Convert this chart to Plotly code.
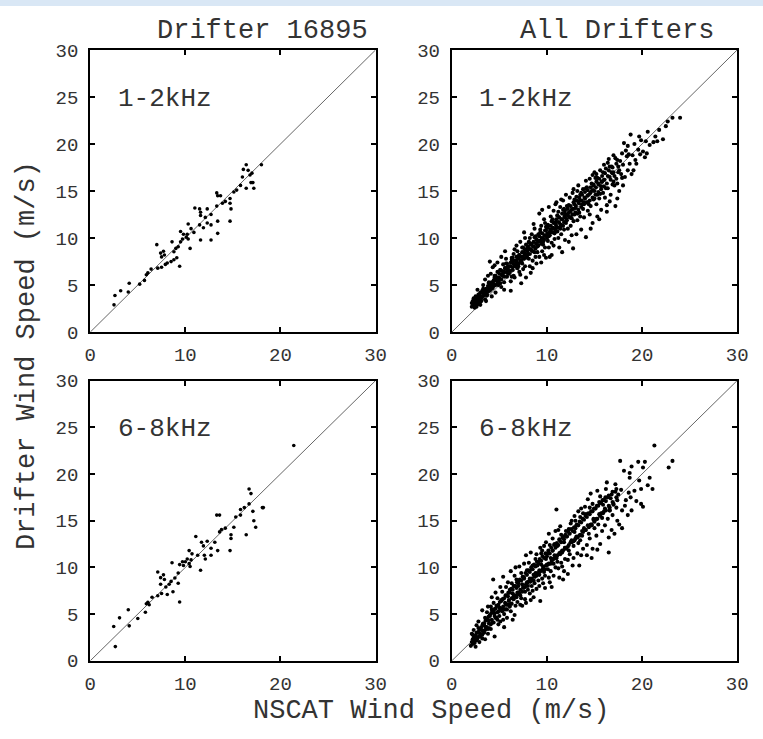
import plotly.graph_objects as go

# ---------------- data ----------------
x_ticks = [0, 10, 20, 30]
y_ticks = [0, 5, 10, 15, 20, 25, 30]
col_titles = ["Drifter 16895", "All Drifters"]
band_labels = ["1-2kHz", "6-8kHz"]

# Drifter 16895, 1-2 kHz
d1_x = [2.5, 2.6, 3.2, 4.0, 4.1, 5.2, 5.7, 5.9, 6.06, 6.4, 7.1, 7.5, 7.9, 8.1, 8.5, 8.8, 9.4, 9.1,
        7.0, 7.4, 7.5, 7.8, 7.7, 8.6, 8.8, 9.0, 9.25, 9.5, 9.7, 9.5, 9.8, 10.1, 10.3, 10.2, 10.3, 10.6,
        10.5, 10.9, 11.0, 11.5, 11.6, 11.6, 12.1, 11.5, 11.9, 11.6, 12.3, 12.3, 12.7, 12.7, 12.7, 13.3,
        13.3, 13.4, 13.7, 13.4, 13.4, 13.9, 14.2, 14.7, 14.7, 14.8, 14.7, 15.1, 15.4, 15.8, 16.0, 16.1,
        16.4, 16.6, 16.8, 17.0, 16.9, 17.1, 16.4, 17.2, 18.0]
d1_y = [2.9, 3.9, 4.4, 4.26, 5.2, 5.1, 5.5, 6.1, 6.3, 6.7, 6.8, 6.9, 7.2, 7.35, 7.5, 7.7, 7.0, 7.9,
        9.3, 8.4, 8.0, 8.2, 8.6, 9.6, 8.55, 8.9, 9.07, 9.6, 9.9, 10.7, 10.4, 10.1, 9.9, 10.4, 11.5, 11.0,
        8.9, 10.6, 13.2, 13.1, 12.75, 12.4, 12.2, 11.4, 11.1, 9.8, 13.1, 11.6, 9.8, 12.5, 11.4, 13.4,
        14.8, 14.5, 14.5, 11.8, 10.5, 13.7, 13.9, 14.2, 13.7, 13.1, 11.8, 14.9, 15.1, 15.6, 16.5, 17.3,
        17.8, 17.2, 16.7, 16.9, 15.9, 15.9, 15.3, 15.3, 17.8]

# Drifter 16895, 6-8 kHz
d2_x = [21.4, 2.64, 2.47, 3.08, 4.0, 4.1, 5.0, 5.8, 5.9, 6.06, 6.2, 6.5, 7.1, 7.5, 8.1, 8.7, 9.4, 7.1,
        7.4, 7.4, 7.7, 7.8, 7.95, 8.3, 8.5, 8.6, 8.9, 9.25, 9.25, 9.4, 9.7, 9.8, 10.0, 10.2, 10.4, 10.4,
        10.5, 10.7, 10.6, 11.1, 11.3, 11.6, 11.7, 11.9, 12.0, 12.1, 12.3, 12.7, 12.7, 13.1, 13.3, 13.6,
        13.4, 13.6, 13.8, 14.2, 14.8, 14.8, 14.7, 15.1, 15.3, 15.8, 16.2, 16.4, 16.7, 16.7, 16.9, 17.1,
        17.2, 17.4, 18.1, 18.2, 15.8]
d2_y = [23.05, 1.52, 3.67, 4.6, 5.47, 3.74, 4.53, 5.2, 6.1, 6.26, 6.0, 6.8, 6.96, 7.2, 7.1, 7.4, 6.3, 9.5,
        8.9, 8.2, 9.2, 8.7, 7.9, 8.2, 8.5, 10.5, 8.86, 8.3, 9.4, 10.3, 10.6, 10.2, 10.6, 10.9, 11.8, 10.4,
        10.1, 11.45, 10.8, 13.3, 11.3, 9.7, 12.7, 12.3, 11.3, 10.9, 12.8, 12.05, 11.3, 12.7, 15.6, 15.6,
        11.8, 13.8, 14.05, 14.2, 13.5, 13.1, 11.8, 14.3, 15.4, 15.6, 16.4, 13.5, 16.8, 18.4, 17.9, 16.0,
        15.0, 14.3, 16.4, 16.4, 16.2]

# All drifters, 1-2 kHz (scattered points)
a1_x = [2.1, 2.2, 2.3, 2.2, 2.4, 2.5, 2.6, 2.3, 2.7, 2.8, 2.5, 2.9, 3.0, 2.4, 2.6, 2.1, 2.8, 3.1, 3.0, 2.7,
        3.2, 3.4, 3.5, 3.6, 3.3, 3.8, 3.9, 3.7, 3.5, 3.9, 3.2, 3.6, 3.8,
        4.0, 4.2, 4.1, 4.4, 4.5, 4.3, 4.6, 4.7, 4.8, 4.9, 4.0, 4.5, 4.2, 4.8, 4.6,
        5.0, 5.1, 5.2, 5.3, 5.4, 5.5, 5.6, 5.7, 5.8, 5.9, 5.2, 5.5, 5.4, 5.8, 5.1, 5.6,
        6.0, 6.1, 6.2, 6.3, 6.4, 6.5, 6.6, 6.7, 6.8, 6.9, 6.2, 6.4, 6.6, 6.1, 6.8, 6.3, 6.9, 6.5,
        7.0, 7.1, 7.2, 7.3, 7.4, 7.5, 7.6, 7.7, 7.8, 7.9, 7.2, 7.5, 7.8, 7.1, 7.4, 7.6, 7.9, 7.3, 7.7,
        8.0, 8.1, 8.2, 8.3, 8.4, 8.5, 8.6, 8.7, 8.8, 8.9, 8.2, 8.5, 8.7, 8.1, 8.4, 8.6, 8.9, 8.3, 8.8, 8.0,
        9.0, 9.1, 9.2, 9.3, 9.4, 9.5, 9.6, 9.7, 9.8, 9.9, 9.2, 9.5, 9.4, 9.7, 9.1, 9.8, 9.3, 9.6, 9.9, 9.0,
        10.0, 10.1, 10.2, 10.3, 10.4, 10.5, 10.6, 10.7, 10.8, 10.9, 10.2, 10.5, 10.8, 10.3, 10.6, 10.1, 10.9, 10.4, 10.7, 10.0,
        11.0, 11.1, 11.2, 11.3, 11.4, 11.5, 11.6, 11.7, 11.8, 11.9, 11.3, 11.6, 11.0, 11.4, 11.8, 11.2, 11.5, 11.7, 11.9, 11.1,
        12.0, 12.1, 12.2, 12.3, 12.4, 12.5, 12.6, 12.7, 12.8, 12.9, 12.3, 12.75, 12.0, 12.5, 12.8, 12.2, 12.6, 12.9,
        13.0, 13.1, 13.2, 13.3, 13.4, 13.5, 13.6, 13.7, 13.8, 13.9, 13.3, 13.6, 13.1, 13.9, 13.5, 13.2,
        14.0, 14.1, 14.2, 14.3, 14.4, 14.5, 14.6, 14.7, 14.8, 14.9, 14.1, 14.5, 14.8, 14.3, 14.9, 14.6,
        15.0, 15.1, 15.2, 15.3, 15.4, 15.5, 15.6, 15.7, 15.8, 15.9, 15.0, 15.5, 15.3, 15.7, 15.2,
        16.0, 16.1, 16.2, 16.3, 16.4, 16.5, 16.6, 16.7, 16.8, 16.9, 16.3, 16.6, 16.0, 16.9, 16.4,
        17.0, 17.1, 17.2, 17.3, 17.4, 17.5, 17.6, 17.7, 17.8, 17.9, 17.2, 17.6, 17.0, 17.4, 17.9,
        18.0, 18.1, 18.2, 18.4, 18.5, 18.6, 18.8, 18.9, 18.3, 18.7, 18.5, 18.0,
        19.0, 19.2, 19.4, 19.6, 19.8, 19.9, 19.3, 19.7, 19.1,
        20.1, 20.4, 20.6, 20.3, 20.8, 20.5,
        21.2, 21.6, 21.8, 21.4,
        22.2, 22.7, 23.2, 24.0, 22.5]
a1_y = [2.7, 3.0, 2.8, 3.3, 3.1, 2.9, 3.4, 3.6, 3.0, 3.2, 3.8, 3.6, 2.9, 2.6, 2.7, 3.1, 4.0, 3.3, 4.2, 4.5,
        3.8, 4.1, 3.5, 4.6, 5.0, 4.3, 5.2, 3.9, 5.6, 4.8, 4.4, 3.3, 6.0,
        4.5, 5.3, 6.2, 4.9, 5.8, 6.9, 4.2, 5.5, 6.4, 5.0, 7.5, 7.1, 3.8, 7.4, 6.0,
        5.7, 6.6, 4.8, 6.0, 7.2, 5.3, 6.8, 7.8, 5.9, 6.5, 8.0, 4.5, 6.3, 7.3, 5.2, 8.6,
        6.2, 7.0, 5.4, 7.7, 6.6, 8.3, 5.8, 7.2, 9.2, 6.8, 4.4, 7.9, 8.8, 6.5, 7.6, 5.9, 8.0, 6.0,
        7.0, 8.2, 6.1, 7.6, 9.0, 6.7, 8.5, 10.0, 5.8, 7.9, 9.6, 8.0, 9.3, 6.4, 7.3, 10.6, 8.8, 5.2, 7.0,
        8.3, 9.5, 7.0, 8.8, 10.4, 7.6, 9.1, 11.0, 8.0, 9.8, 10.0, 6.8, 8.5, 7.8, 9.4, 11.5, 7.3, 6.3, 10.2, 9.0,
        9.2, 10.4, 8.0, 9.7, 11.3, 8.6, 10.0, 12.0, 9.0, 10.8, 12.6, 13.0, 7.4, 8.2, 9.6, 11.6, 10.9, 9.3, 7.9, 8.5,
        10.2, 11.4, 9.0, 10.6, 12.3, 9.5, 11.0, 12.9, 9.9, 11.7, 13.3, 8.2, 10.5, 8.0, 12.0, 9.7, 13.6, 10.9, 9.2, 11.1,
        11.2, 12.4, 10.0, 11.6, 13.3, 10.4, 12.0, 14.0, 10.9, 12.6, 9.0, 8.5, 13.8, 11.0, 13.1, 12.8, 14.1, 11.3, 9.8, 10.7,
        12.1, 13.4, 11.0, 12.7, 14.3, 11.3, 13.0, 14.8, 11.8, 13.6, 9.6, 8.9, 14.6, 12.2, 15.2, 12.4, 10.3, 12.5,
        13.2, 14.4, 11.9, 15.6, 12.7, 14.0, 10.9, 13.6, 15.2, 12.2, 13.9, 14.8, 10.4, 13.8, 12.3, 15.0,
        14.2, 10.1, 15.4, 12.9, 14.6, 16.3, 13.4, 15.0, 11.6, 14.1, 16.1, 12.5, 16.7, 13.8, 15.6, 11.0,
        15.0, 16.4, 13.6, 12.3, 15.8, 14.2, 17.2, 13.0, 16.0, 14.8, 17.0, 12.0, 14.6, 15.5, 16.8,
        16.2, 14.3, 17.4, 13.5, 15.3, 18.4, 16.5, 14.6, 17.6, 15.7, 12.8, 13.9, 17.8, 16.9, 18.0,
        17.0, 15.6, 18.5, 16.3, 14.2, 17.6, 15.0, 18.2, 16.8, 19.0, 13.4, 17.2, 18.8, 15.8, 16.4,
        17.8, 20.1, 16.5, 18.7, 17.2, 18.9, 21.0, 16.8, 19.3, 17.9, 19.8, 15.6,
        18.8, 20.0, 17.9, 19.4, 18.9, 20.4, 18.3, 20.8, 17.2,
        19.2, 20.3, 21.3, 18.6, 19.9, 19.0,
        20.2, 20.3, 21.5, 20.8,
        20.5, 22.4, 22.8, 22.8, 21.9]

# All drifters, 1-2 kHz (dense core of the cloud)
a1c_x = [2.3, 2.5, 2.6, 2.8, 2.9, 3.1, 3.2, 3.4, 3.5, 3.7, 3.8, 4.0, 4.1, 4.3, 4.4, 4.6, 4.7, 4.9, 5.0, 5.2,
         5.3, 5.5, 5.6, 5.8, 5.9, 6.1, 6.2, 6.4, 6.5, 6.7, 6.8, 7.0, 7.1, 7.3, 7.4, 7.6, 7.7, 7.9, 8.0, 8.2,
         8.3, 8.5, 8.6, 8.8, 8.9, 9.1, 9.2, 9.4, 9.5, 9.7, 9.8, 10.0, 10.1, 10.3, 10.4, 10.6, 10.7, 10.9, 11.0, 11.2,
         11.3, 11.5, 11.6, 11.8, 11.9, 12.1, 12.2, 12.4, 12.5, 12.7, 12.8, 13.0, 13.1, 13.3, 13.4, 13.6, 13.7, 13.9, 14.0, 14.2,
         14.3, 14.5, 14.6, 14.8, 14.9, 15.1, 15.2, 15.4, 15.5, 15.7, 15.8, 16.0, 16.1, 16.3, 16.5, 16.7, 16.9, 17.1, 17.3, 17.5,
         2.4, 2.7, 3.0, 3.3, 3.6, 3.9, 4.2, 4.5, 4.8, 5.1, 5.4, 5.7, 6.0, 6.3, 6.6, 6.9, 7.2, 7.5, 7.8, 8.1,
         8.4, 8.7, 9.0, 9.3, 9.6, 9.9, 10.2, 10.5, 10.8, 11.1, 11.4, 11.7, 12.0, 12.3, 12.6, 12.9, 13.2, 13.5, 13.8, 14.1,
         14.4, 14.7, 15.0, 15.3, 15.6, 15.9, 16.2, 16.6, 17.0, 17.4,
         2.35, 2.55, 2.75, 2.95, 3.15, 3.45, 3.75, 4.05, 4.35, 4.65, 4.95, 5.25, 5.55, 5.85, 6.15, 6.45, 6.75, 7.05, 7.35, 7.65,
         7.95, 8.25, 8.55, 8.85, 9.15, 9.45, 9.75, 10.05, 10.35, 10.65, 10.95, 11.25, 11.55, 11.85, 12.15, 12.45, 12.75, 13.05, 13.35, 13.65,
         13.95, 14.25, 14.55, 14.85, 15.15, 15.45, 15.75, 16.05, 16.4, 16.8]
a1c_y = [3.2, 3.0, 3.5, 3.3, 3.9, 3.6, 4.2, 3.9, 4.5, 4.0, 4.9, 4.4, 5.1, 4.7, 5.5, 5.0, 5.8, 5.4, 6.2, 5.6,
         6.5, 5.9, 6.8, 6.3, 7.0, 6.4, 7.4, 6.9, 7.6, 7.0, 8.0, 7.3, 8.2, 7.6, 8.5, 7.8, 8.8, 8.1, 9.1, 8.3,
         9.3, 8.6, 9.6, 8.9, 9.9, 9.2, 10.2, 9.4, 10.5, 9.8, 10.8, 10.0, 11.1, 10.3, 11.3, 10.6, 11.6, 10.9, 12.0, 11.1,
         12.2, 11.4, 12.6, 11.7, 12.9, 11.9, 13.1, 12.2, 13.4, 12.5, 13.8, 12.7, 14.0, 13.0, 14.3, 13.3, 14.6, 13.6, 14.9, 13.8,
         15.1, 14.0, 15.4, 14.3, 15.7, 14.6, 16.0, 14.9, 16.3, 15.2, 16.6, 15.5, 16.9, 15.8, 17.2, 16.2, 17.5, 16.6, 17.9, 17.0,
         2.9, 3.7, 3.4, 4.6, 4.3, 5.3, 4.6, 6.0, 5.2, 6.6, 6.0, 7.3, 6.6, 7.9, 7.1, 8.6, 7.5, 9.0, 8.2, 9.6,
         8.7, 10.1, 9.1, 10.6, 9.6, 11.2, 10.2, 11.8, 10.6, 12.4, 11.2, 13.0, 11.6, 13.5, 12.1, 14.1, 12.6, 14.6, 13.1, 15.3,
         13.6, 15.8, 14.2, 16.4, 14.7, 17.0, 15.3, 17.6, 16.0, 18.3,
         3.4, 3.2, 3.0, 3.3, 3.8, 4.2, 4.6, 4.8, 5.2, 5.5, 5.8, 6.1, 6.4, 6.7, 7.0, 7.3, 7.5, 7.8, 8.0, 8.3,
         8.6, 8.8, 9.1, 9.4, 9.7, 10.0, 10.3, 10.5, 10.8, 11.1, 11.4, 11.7, 12.0, 12.3, 12.5, 12.8, 13.1, 13.4, 13.7, 14.0,
         14.3, 14.5, 14.8, 15.1, 15.4, 15.7, 16.0, 16.2, 16.6, 17.0]

# All drifters, 6-8 kHz (scattered points)
a2_x = [2.0, 2.1, 2.2, 2.3, 2.2, 2.4, 2.5, 2.6, 2.3, 2.7, 2.8, 2.5, 2.9, 2.1, 2.6, 3.0, 2.4, 2.8,
        3.1, 3.2, 3.3, 3.4, 3.5, 3.6, 3.7, 3.8, 3.9, 3.2, 3.5, 3.8, 3.4, 3.9,
        4.0, 4.1, 4.2, 4.3, 4.35, 4.4, 4.5, 4.6, 4.7, 4.8, 4.9, 4.2, 4.5, 4.8, 4.1, 4.6, 4.9,
        5.0, 5.1, 5.2, 5.3, 5.4, 5.5, 5.6, 5.7, 5.8, 5.9, 5.1, 5.5, 5.3, 5.7, 5.9, 5.4, 5.8,
        6.0, 6.1, 6.2, 6.3, 6.4, 6.5, 6.6, 6.7, 6.8, 6.9, 6.2, 6.4, 6.6, 6.8, 6.1, 6.5, 6.9, 6.3, 6.7,
        7.0, 7.1, 7.2, 7.3, 7.4, 7.5, 7.6, 7.7, 7.8, 7.9, 7.2, 7.5, 7.7, 7.1, 7.4, 7.8, 7.9, 7.3, 7.6, 7.0,
        8.0, 8.1, 8.2, 8.3, 8.4, 8.5, 8.6, 8.7, 8.8, 8.9, 8.2, 8.5, 8.8, 8.1, 8.4, 8.7, 8.9, 8.3, 8.6, 8.0,
        9.0, 9.1, 9.2, 9.3, 9.4, 9.5, 9.6, 9.7, 9.8, 9.9, 9.2, 9.5, 9.8, 9.1, 9.4, 9.7, 9.9, 9.3, 9.6, 9.0,
        10.0, 10.1, 10.2, 10.3, 10.4, 10.5, 10.6, 10.7, 10.8, 10.9, 10.2, 10.5, 10.8, 10.1, 10.4, 10.7, 10.9, 10.3, 10.6, 11.0,
        11.0, 11.1, 11.2, 11.3, 11.4, 11.5, 11.6, 11.7, 11.8, 11.9, 11.2, 11.5, 11.8, 11.1, 11.4, 11.7, 11.9, 11.3, 11.6,
        12.0, 12.1, 12.2, 12.3, 12.4, 12.5, 12.6, 12.7, 12.8, 12.9, 12.2, 12.5, 12.8, 12.0, 12.6, 12.9, 12.3,
        13.0, 13.1, 13.2, 13.3, 13.4, 13.5, 13.6, 13.7, 13.8, 13.9, 13.3, 13.6, 13.0, 13.8, 13.5,
        14.0, 14.1, 14.2, 14.3, 14.4, 14.5, 14.6, 14.7, 14.8, 14.9, 14.2, 14.5, 14.8, 14.0, 14.7,
        15.0, 15.1, 15.2, 15.3, 15.4, 15.5, 15.6, 15.7, 15.8, 15.9, 15.3, 15.6, 15.0, 15.8,
        16.0, 16.2, 16.3, 16.1, 16.4, 16.5, 16.6, 16.7, 16.8, 16.9, 16.5, 16.2, 16.6,
        17.0, 17.2, 17.4, 17.5, 17.7, 17.9, 17.9, 17.3, 17.6, 17.8, 17.1,
        18.1, 18.6, 18.7, 18.7, 18.9, 18.9, 18.3, 18.5, 18.2, 18.8,
        19.2, 19.6, 19.9, 19.9, 19.4, 19.7,
        20.1, 20.1, 20.3, 20.6, 21.1, 21.3, 22.8, 23.2, 20.8]
a2_y = [1.6, 2.0, 1.8, 2.4, 2.8, 1.9, 2.2, 3.0, 3.3, 2.5, 3.5, 1.5, 2.0, 2.9, 3.8, 2.7, 2.6, 4.2,
        3.3, 2.4, 4.0, 3.0, 4.6, 3.6, 5.2, 2.9, 4.3, 5.4, 2.3, 5.8, 3.8, 3.5,
        4.8, 3.4, 5.5, 4.1, 8.7, 6.2, 2.6, 4.6, 5.9, 6.7, 3.9, 6.8, 5.1, 4.4, 5.8, 7.3, 5.3,
        5.7, 4.2, 6.5, 7.4, 9.0, 5.0, 6.2, 7.9, 4.6, 6.9, 7.9, 3.6, 5.6, 6.0, 8.4, 4.4, 5.5,
        6.5, 7.6, 5.3, 8.3, 4.4, 6.9, 9.1, 5.9, 7.8, 6.3, 9.6, 7.2, 4.9, 8.7, 5.8, 8.0, 7.1, 6.1, 10.0,
        7.3, 8.6, 6.0, 9.4, 5.9, 7.8, 10.4, 6.6, 11.3, 8.4, 7.0, 9.0, 7.4, 10.1, 8.2, 6.2, 9.7, 6.7, 8.8, 8.0,
        8.4, 9.6, 7.2, 11.6, 8.0, 10.2, 6.8, 9.0, 10.9, 7.7, 8.8, 7.5, 9.4, 10.5, 9.8, 8.3, 11.4, 6.5, 9.2, 7.6,
        9.4, 10.6, 8.0, 6.4, 11.5, 8.8, 10.1, 12.3, 9.1, 10.9, 9.7, 11.8, 7.8, 8.6, 10.3, 9.5, 12.7, 12.1, 8.3, 10.2,
        10.3, 11.5, 8.9, 12.4, 9.6, 10.9, 13.1, 9.1, 11.3, 10.0, 13.6, 7.9, 12.5, 9.8, 11.0, 10.4, 13.9, 8.4, 11.8, 16.2,
        11.0, 12.3, 9.9, 13.0, 14.4, 10.5, 11.8, 8.7, 12.7, 10.9, 14.0, 13.5, 9.6, 10.6, 11.4, 13.3, 12.1, 8.9, 10.1,
        12.0, 13.3, 10.8, 14.1, 11.4, 12.7, 15.0, 10.2, 12.3, 13.8, 9.3, 14.7, 11.0, 13.9, 12.9, 15.5, 11.8,
        13.1, 14.5, 11.5, 12.6, 10.2, 15.4, 16.3, 13.4, 12.0, 14.2, 16.0, 11.3, 15.0, 15.8, 12.9,
        14.0, 15.7, 12.4, 17.3, 13.6, 16.4, 17.9, 14.5, 12.0, 15.2, 11.3, 13.1, 16.8, 16.5, 11.0,
        15.0, 16.3, 13.4, 18.2, 14.6, 17.0, 12.5, 15.8, 13.9, 16.7, 11.9, 17.6, 14.2, 15.3,
        16.0, 18.4, 19.1, 14.5, 15.2, 11.6, 16.1, 17.4, 14.0, 15.6, 13.2, 17.1, 16.1,
        16.7, 18.9, 15.0, 17.8, 21.4, 14.2, 16.1, 16.4, 14.6, 18.3, 13.6,
        20.35, 18.0, 20.1, 19.6, 20.8, 16.1, 17.2, 15.6, 16.6, 17.5,
        18.2, 21.3, 18.4, 16.8, 17.1, 19.3,
        16.5, 20.7, 21.3, 18.8, 18.4, 23.05, 20.7, 21.4, 19.6]

# All drifters, 6-8 kHz (dense core of the cloud)
a2c_x = [2.2, 2.4, 2.5, 2.7, 2.8, 3.0, 3.1, 3.3, 3.4, 3.6, 3.7, 3.9, 4.0, 4.2, 4.3, 4.5, 4.6, 4.8, 4.9, 5.1,
         5.2, 5.4, 5.5, 5.7, 5.8, 6.0, 6.1, 6.3, 6.4, 6.6, 6.7, 6.9, 7.0, 7.2, 7.3, 7.5, 7.6, 7.8, 7.9, 8.1,
         8.2, 8.4, 8.5, 8.7, 8.8, 9.0, 9.1, 9.3, 9.4, 9.6, 9.7, 9.9, 10.0, 10.2, 10.3, 10.5, 10.6, 10.8, 10.9, 11.1,
         11.2, 11.4, 11.5, 11.7, 11.8, 12.0, 12.1, 12.3, 12.4, 12.6, 12.7, 12.9, 13.0, 13.2, 13.3, 13.5, 13.6, 13.8, 13.9, 14.1,
         14.2, 14.4, 14.5, 14.7, 14.8, 15.0, 15.1, 15.3, 15.4, 15.6, 15.7, 15.9, 16.0, 16.2, 16.4, 16.6, 16.8, 17.0, 17.2, 17.4,
         2.3, 2.6, 2.9, 3.2, 3.5, 3.8, 4.1, 4.4, 4.7, 5.0, 5.3, 5.6, 5.9, 6.2, 6.5, 6.8, 7.1, 7.4, 7.7, 8.0,
         8.3, 8.6, 8.9, 9.2, 9.5, 9.8, 10.1, 10.4, 10.7, 11.0, 11.3, 11.6, 11.9, 12.2, 12.5, 12.8, 13.1, 13.4, 13.7, 14.0,
         14.3, 14.6, 14.9, 15.2, 15.5, 15.8, 16.1, 16.5, 16.9, 17.3,
         2.35, 2.65, 2.95, 3.25, 3.55, 3.85, 4.15, 4.45, 4.75, 5.05, 5.35, 5.65, 5.95, 6.25, 6.55, 6.85, 7.15, 7.45, 7.75, 8.05,
         8.35, 8.65, 8.95, 9.25, 9.55, 9.85, 10.15, 10.45, 10.75, 11.05, 11.35, 11.65, 11.95, 12.25, 12.55, 12.85, 13.15, 13.45, 13.75, 14.05,
         14.35, 14.65, 14.95, 15.25, 15.55, 15.85, 16.15, 16.5, 16.9, 17.3]
a2c_y = [2.3, 2.1, 2.7, 2.4, 3.1, 2.9, 3.6, 3.2, 4.0, 3.6, 4.4, 4.0, 4.9, 4.4, 5.3, 4.8, 5.6, 5.2, 6.0, 5.5,
         6.4, 5.8, 6.7, 6.1, 7.0, 6.4, 7.3, 6.7, 7.6, 7.0, 8.0, 7.3, 8.3, 7.6, 8.6, 7.9, 8.9, 8.2, 9.2, 8.5,
         9.5, 8.8, 9.8, 9.1, 10.1, 9.3, 10.4, 9.6, 10.7, 9.9, 11.0, 10.2, 11.2, 10.4, 11.5, 10.7, 11.8, 11.0, 12.1, 11.3,
         12.4, 11.6, 12.7, 11.8, 13.0, 12.1, 13.3, 12.4, 13.6, 12.7, 13.9, 12.9, 14.2, 13.2, 14.5, 13.5, 14.8, 13.8, 15.1, 14.0,
         15.4, 14.3, 15.7, 14.6, 16.0, 14.9, 16.3, 15.2, 16.6, 15.5, 16.9, 15.8, 17.2, 16.1, 17.5, 16.4, 17.8, 16.8, 18.1, 17.2,
         2.0, 2.2, 2.6, 2.8, 3.3, 3.4, 3.9, 4.1, 4.6, 4.8, 5.3, 5.5, 6.0, 6.1, 6.6, 6.8, 7.2, 7.4, 7.9, 8.0,
         8.5, 8.6, 9.1, 9.2, 9.7, 9.8, 10.3, 10.4, 10.9, 11.0, 11.5, 11.6, 12.1, 12.2, 12.7, 12.8, 13.3, 13.4, 13.9, 14.0,
         14.5, 14.6, 15.1, 15.2, 15.7, 15.8, 16.3, 16.6, 17.0, 17.5,
         2.6, 3.0, 3.4, 3.9, 4.3, 4.7, 5.1, 5.5, 5.9, 6.3, 6.6, 7.0, 7.3, 7.7, 8.0, 8.4, 8.7, 9.0, 9.4, 9.7,
         10.0, 10.3, 10.6, 10.9, 11.2, 11.5, 11.8, 12.1, 12.4, 12.6, 12.9, 13.2, 13.5, 13.8, 14.1, 14.3, 14.6, 14.9, 15.2, 15.5,
         15.8, 16.0, 16.3, 16.6, 16.9, 17.2, 17.5, 17.7, 18.1, 18.4]

one_to_one = [0, 30]

# ---------------- figure ----------------
FONT = "Liberation Mono, Courier New, monospace"
TXT = "#333333"
# the page keeps the browser's default 8px body margin, so the figure is
# 16px smaller than the window and every pixel position is shifted by 8.
W, H = 747, 723
OFF = 8


def px(v):
    return (v - OFF) / W


def py(v):
    return 1 - (v - OFF) / H


col_dom = [[px(86), px(378)], [px(456), px(748)]]
row_dom = [[py(333), py(42)], [py(672), py(383)]]

panels = [
    (0, 0, d1_x, d1_y, 0, 3.6),
    (0, 1, a1_x + a1c_x, a1_y + a1c_y, 0, 4.1),
    (1, 0, d2_x, d2_y, 1, 3.6),
    (1, 1, a2_x + a2c_x, a2_y + a2c_y, 1, 4.1),
]

fig = go.Figure()
layout = dict(
    width=W, height=H,
    margin=dict(l=0, r=0, t=0, b=0),
    paper_bgcolor="white", plot_bgcolor="white",
    showlegend=False,
    font=dict(family=FONT, color=TXT),
)
annotations = []
for i, (r, c, xs, ys, band, msize) in enumerate(panels):
    n = "" if i == 0 else str(i + 1)
    xa, ya = "x" + n, "y" + n
    fig.add_trace(go.Scatter(x=one_to_one, y=one_to_one, mode="lines",
                             line=dict(color="#666", width=1), xaxis=xa, yaxis=ya,
                             hoverinfo="skip"))
    fig.add_trace(go.Scatter(x=xs, y=ys, mode="markers",
                             marker=dict(color="black", size=msize, line=dict(width=0)),
                             xaxis=xa, yaxis=ya))
    common = dict(range=[0, 30], showgrid=False, zeroline=False, showline=True,
                  linecolor="black", linewidth=2, mirror="ticks", ticks="inside",
                  ticklen=5, tickwidth=1.5, tickcolor="black",
                  tickfont=dict(family=FONT, size=19, color=TXT))
    layout["xaxis" + n] = dict(common, domain=col_dom[c], anchor=ya,
                               tickvals=x_ticks, ticklabelstandoff=4)
    layout["yaxis" + n] = dict(common, domain=row_dom[r], anchor=xa,
                               tickvals=y_ticks, ticklabelstandoff=6)
    annotations.append(dict(text=band_labels[band], x=2.7, y=24.8, xref=xa, yref=ya,
                            xanchor="left", yanchor="middle", showarrow=False,
                            font=dict(family=FONT, size=26, color=TXT)))

annotations += [
    dict(text=col_titles[0], x=px(262), y=py(22), xref="paper", yref="paper",
         xanchor="center", yanchor="middle", showarrow=False, font=dict(size=27)),
    dict(text=col_titles[1], x=px(625), y=py(22), xref="paper", yref="paper",
         xanchor="center", yanchor="middle", showarrow=False, font=dict(size=27)),
    dict(text="NSCAT Wind Speed (m/s)", x=px(435), y=py(724), xref="paper", yref="paper",
         xanchor="center", yanchor="middle", showarrow=False, font=dict(size=27)),
    dict(text="Drifter Wind Speed (m/s)", x=px(22), y=py(357), xref="paper", yref="paper",
         xanchor="center", yanchor="middle", showarrow=False, textangle=-90, font=dict(size=27)),
]
layout["annotations"] = annotations
fig.update_layout(**layout)
fig.write_html(
    "out.html",
    config={"displayModeBar": False},
    post_script="document.documentElement.style.background="
                "'linear-gradient(#d9e7f5 0px, #d9e7f5 6px, #ffffff 6px)';",
)
